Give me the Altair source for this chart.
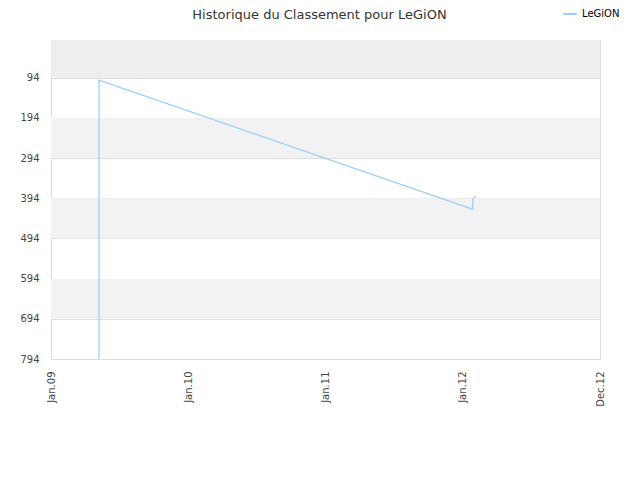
import altair as alt
import pandas as pd

# data (x: position in "years", y: rank)
xs = [2009.35, 2009.35, 2012.07, 2012.075, 2012.095]
ranks = [794, 100, 421, 396, 388]
series = ["LeGiON"] * len(xs)

tick_vals = [94, 194, 294, 394, 494, 594, 694, 794]
x_ticks = [2009, 2010, 2011, 2012, 2013]
x_labels = ["Jan.09", "Jan.10", "Jan.11", "Jan.12", "Dec.12"]

band_lo = [0, 194, 394, 594]
band_hi = [94, 294, 494, 694]
band_col = ["#eeeeee", "#f2f2f2", "#f2f2f2", "#f2f2f2"]

df = pd.DataFrame({"x": xs, "rank": ranks, "s": series})
bands = pd.DataFrame({"lo": band_lo, "hi": band_hi, "c": band_col})

yscale = alt.Scale(domain=[0, 794], reverse=True, nice=False, zero=False)
xscale = alt.Scale(domain=[2009, 2013], nice=False, zero=False)

label_expr = "[" + ",".join("'%s'" % l for l in x_labels) + "][datum.value - 2009]"

band_layer = alt.Chart(bands).mark_rect().encode(
    x=alt.value(0), x2=alt.value(549),
    y=alt.Y("lo:Q", scale=yscale,
            axis=alt.Axis(values=tick_vals, title=None, grid=True, gridColor="#dddddd",
                          ticks=False, domain=False, labelPadding=12,
                          labelFont="DejaVu Sans", labelFontSize=10, labelColor="#444")),
    y2="hi:Q",
    color=alt.Color("c:N", scale=None),
)

line = alt.Chart(df).mark_line(strokeWidth=1.2, color="#99ccff", clip=True).encode(
    x=alt.X("x:Q", scale=xscale,
            axis=alt.Axis(values=x_ticks, labelExpr=label_expr, title=None, grid=False,
                          ticks=False, domain=False, labelAngle=-90, labelAlign="right",
                          labelBaseline="middle", labelPadding=12,
                          labelFont="DejaVu Sans", labelFontSize=10, labelColor="#444")),
    y=alt.Y("rank:Q", scale=yscale),
    stroke=alt.Stroke("s:N", scale=alt.Scale(range=["#99ccff"]),
                      legend=alt.Legend(title=None, orient="none", legendX=511, legendY=-34,
                                        symbolType="stroke", symbolSize=180, symbolStrokeWidth=2,
                                        labelFont="DejaVu Sans", labelFontSize=10,
                                        labelColor="#000")),
)

chart = alt.layer(band_layer, line).properties(
    width=549, height=319,
    title=alt.Title("Historique du Classement pour LeGiON", font="DejaVu Sans", fontSize=13,
                    fontWeight="normal", color="#333", anchor="middle", offset=-16, dx=-6),
    autosize=alt.AutoSizeParams(type="none"),
    padding={"left": 43, "top": 32, "right": 32, "bottom": 110},
).configure_view(stroke="#dddddd", strokeWidth=1).configure(background="white")

chart.save("out.html", embed_options={"renderer": "svg", "actions": False})
